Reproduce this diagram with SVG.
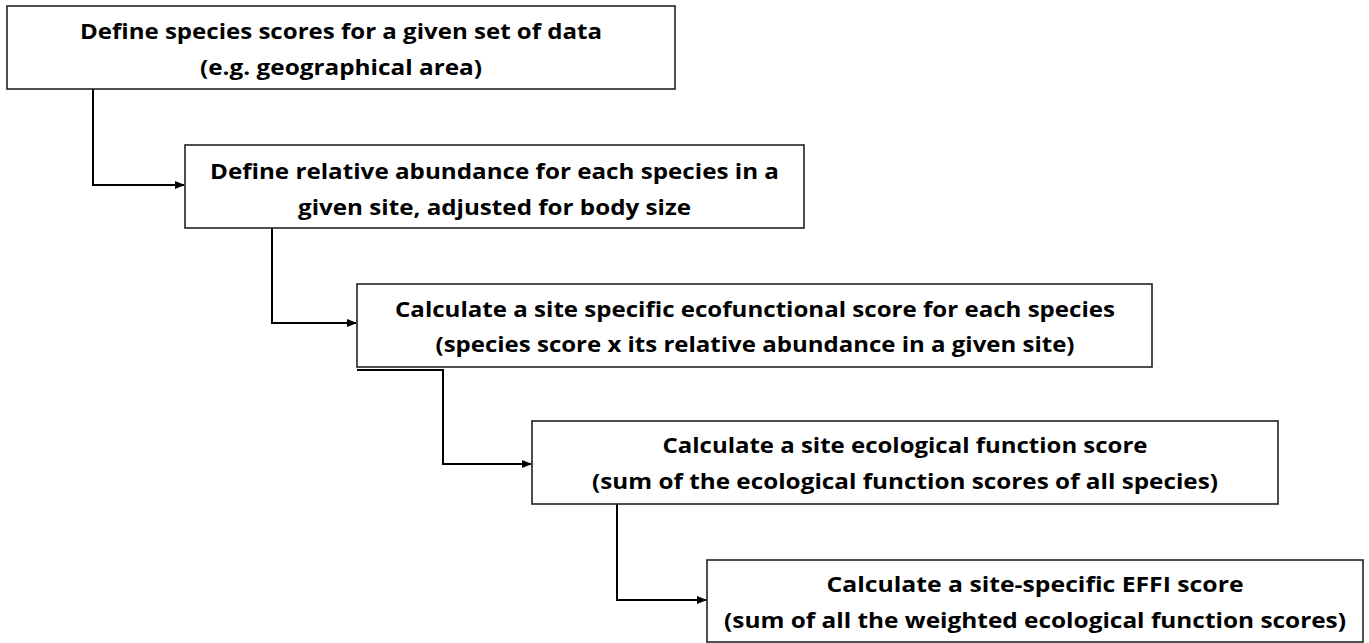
<svg xmlns="http://www.w3.org/2000/svg" width="1369" height="643" viewBox="0 0 1369 643">
<style>
.box{fill:#fff;stroke:#222;stroke-width:1.6}
.t{font-family:"Open Sans","Liberation Sans",sans-serif;font-weight:bold;font-size:21px;fill:#000;text-anchor:middle}
.c{fill:none;stroke:#000;stroke-width:2}
</style>
<defs>
<marker id="ah" markerWidth="10" markerHeight="8" refX="9" refY="4" orient="auto" markerUnits="userSpaceOnUse">
<path d="M0,0 L10,4 L0,8 Z" fill="#000"/>
</marker>
</defs>
<rect width="1369" height="643" fill="#fff"/>
<g id="connectors">
<path class="c" d="M93,89 V185 H184" marker-end="url(#ah)"/>
<path class="c" d="M272,228 V323 H356" marker-end="url(#ah)"/>
<path class="c" d="M357,370 H443 V464 H531" marker-end="url(#ah)"/>
<path class="c" d="M617,504 V600 H706" marker-end="url(#ah)"/>
</g>
<g id="node1">
<rect class="box" x="7" y="6" width="668" height="83"/>
<text class="t" x="341" y="39" textLength="522" lengthAdjust="spacingAndGlyphs">Define species scores for a given set of data</text>
<text class="t" x="341" y="75" textLength="282" lengthAdjust="spacingAndGlyphs">(e.g. geographical area)</text>
</g>
<g id="node2">
<rect class="box" x="185" y="145" width="619" height="83"/>
<text class="t" x="494.5" y="179" textLength="569" lengthAdjust="spacingAndGlyphs">Define relative abundance for each species in a</text>
<text class="t" x="494.5" y="215" textLength="393" lengthAdjust="spacingAndGlyphs">given site, adjusted for body size</text>
</g>
<g id="node3">
<rect class="box" x="357" y="284" width="795" height="83"/>
<text class="t" x="755" y="317" textLength="720" lengthAdjust="spacingAndGlyphs">Calculate a site specific ecofunctional score for each species</text>
<text class="t" x="755" y="352" textLength="639" lengthAdjust="spacingAndGlyphs">(species score x its relative abundance in a given site)</text>
</g>
<g id="node4">
<rect class="box" x="532" y="421" width="746" height="83"/>
<text class="t" x="905" y="453" textLength="485" lengthAdjust="spacingAndGlyphs">Calculate a site ecological function score</text>
<text class="t" x="905" y="489" textLength="626" lengthAdjust="spacingAndGlyphs">(sum of the ecological function scores of all species)</text>
</g>
<g id="node5">
<rect class="box" x="707" y="560" width="656" height="82"/>
<text class="t" x="1035" y="592" textLength="417" lengthAdjust="spacingAndGlyphs">Calculate a site-specific EFFI score</text>
<text class="t" x="1035" y="628" textLength="622" lengthAdjust="spacingAndGlyphs">(sum of all the weighted ecological function scores)</text>
</g>
</svg>
